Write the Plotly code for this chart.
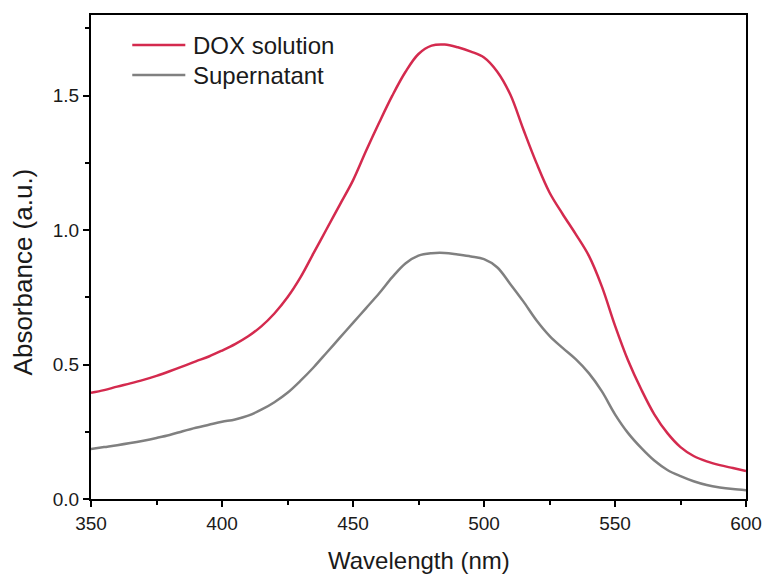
import plotly.graph_objects as go

# UV-Vis absorbance spectra
wavelength = list(range(350, 601, 5))

dox_solution = [
    0.395, 0.405, 0.418, 0.430, 0.443, 0.458, 0.475, 0.493, 0.512, 0.530,
    0.552, 0.576, 0.605, 0.642, 0.690, 0.750, 0.825, 0.915, 1.005, 1.095,
    1.185, 1.295, 1.400, 1.500, 1.588, 1.655, 1.686, 1.690, 1.680, 1.664,
    1.642, 1.590, 1.505, 1.375, 1.250, 1.140, 1.060, 0.985, 0.905, 0.790,
    0.645, 0.515, 0.408, 0.315, 0.245, 0.193, 0.160, 0.140, 0.126, 0.115,
    0.104,
]

supernatant = [
    0.186, 0.193, 0.200, 0.208, 0.217, 0.227, 0.238, 0.252, 0.265, 0.276,
    0.287, 0.296, 0.310, 0.332, 0.360, 0.395, 0.440, 0.490, 0.545, 0.600,
    0.655, 0.710, 0.765, 0.825, 0.876, 0.905, 0.914, 0.915, 0.909, 0.902,
    0.892, 0.862, 0.800, 0.735, 0.665, 0.607, 0.562, 0.520, 0.468, 0.400,
    0.315, 0.245, 0.190, 0.143, 0.108, 0.085, 0.066, 0.052, 0.043, 0.037,
    0.033,
]

x_ticks = [350, 400, 450, 500, 550, 600]
y_ticks = [0.0, 0.5, 1.0, 1.5]

series = [
    ("DOX solution", dox_solution, "#d42a4e"),
    ("Supernatant", supernatant, "#808080"),
]

FONT = "Liberation Sans, Arial, sans-serif"
TEXT = "#1a1a1a"

fig = go.Figure()
for name, values, color in series:
    fig.add_trace(go.Scatter(
        x=wavelength, y=values, mode="lines", name=name, showlegend=False,
        line=dict(color=color, width=2.5, shape="spline", smoothing=1.0),
    ))

# Legend drawn in paper space: short line sample followed by the label
for i, (name, _, color) in enumerate(series):
    y_pos = 0.938 - i * 0.062
    fig.add_shape(
        type="line", xref="paper", yref="paper",
        x0=0.063, x1=0.144, y0=y_pos, y1=y_pos,
        line=dict(color=color, width=2.5),
    )
    fig.add_annotation(
        xref="paper", yref="paper", x=0.152, y=y_pos,
        xanchor="left", yanchor="middle", showarrow=False,
        text=name, font=dict(family=FONT, size=24, color=TEXT),
    )

# Axis titles
fig.add_annotation(
    xref="paper", yref="paper", x=-0.104, y=0.47,
    xanchor="center", yanchor="middle", showarrow=False, textangle=-90,
    text="Absorbance (a.u.)", font=dict(family=FONT, size=26, color=TEXT),
)
fig.add_annotation(
    xref="paper", yref="paper", x=0.5, y=-0.128,
    xanchor="center", yanchor="middle", showarrow=False,
    text="Wavelength (nm)", font=dict(family=FONT, size=24, color=TEXT),
)

axis_common = dict(
    showline=True, linecolor="black", linewidth=2, mirror=True,
    ticks="outside", ticklen=6, tickwidth=1.5, tickcolor="black",
    showgrid=False, zeroline=False, automargin=False,
    tickfont=dict(family=FONT, size=19, color=TEXT),
)

fig.update_layout(
    width=764, height=575,
    margin=dict(l=91, r=18, t=15, b=76),
    paper_bgcolor="white", plot_bgcolor="white",
    font=dict(family=FONT, color=TEXT),
    xaxis=dict(
        range=[350, 600], tickvals=x_ticks,
        minor=dict(ticks="outside", ticklen=4, tickwidth=1.5, tickcolor="black", dtick=25),
        **axis_common,
    ),
    yaxis=dict(
        range=[0, 1.8], tickvals=y_ticks, tickformat=".1f",
        minor=dict(ticks="outside", ticklen=4, tickwidth=1.5, tickcolor="black", dtick=0.25),
        **axis_common,
    ),
    showlegend=False,
)

fig.write_html("out.html")
